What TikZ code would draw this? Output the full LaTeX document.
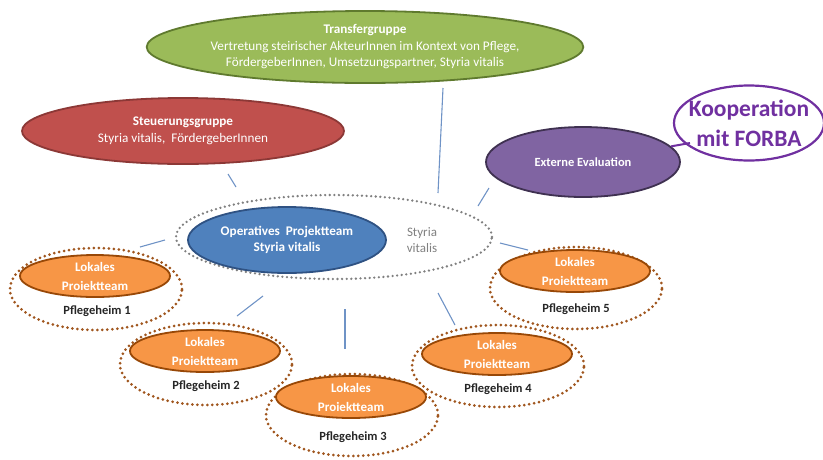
\documentclass[tikz,border=0pt]{standalone}
\usepackage{fontspec}
\setmainfont{Carlito}
\usetikzlibrary{shapes.geometric}
\definecolor{grfill}{HTML}{9BBB59}\definecolor{grline}{HTML}{5F7A2E}
\definecolor{rdfill}{HTML}{C0504D}\definecolor{rdline}{HTML}{8C3836}
\definecolor{pufill}{HTML}{8064A2}\definecolor{puline}{HTML}{3F3151}
\definecolor{blfill}{HTML}{4F81BD}\definecolor{blline}{HTML}{2F5283}
\definecolor{orfill}{HTML}{F79646}\definecolor{orline}{HTML}{984807}
\definecolor{dotbrown}{HTML}{A0561E}
\definecolor{forba}{HTML}{7030A0}
\definecolor{linkblue}{HTML}{6F93C6}
\begin{document}
\begin{tikzpicture}[x=1pt,y=-1pt,
  group/.style={ellipse,draw,line width=1.8pt,inner sep=0pt,text=white,align=center,
    font=\fontsize{13.2}{16.5}\selectfont},
  team/.style={ellipse,draw=orline,fill=orfill,line width=1.8pt,inner sep=0pt,
    minimum width=150pt,minimum height=42pt,text=white,align=center,
    font=\fontsize{13}{19}\selectfont\bfseries},
  home/.style={ellipse,draw=dotbrown,line width=3pt,line cap=round,
    dash pattern=on 0pt off 5pt,minimum width=172pt,minimum height=82pt,inner sep=0pt},
  homelabel/.style={font=\fontsize{12.5}{14}\selectfont\bfseries,text=black!85},
  link/.style={draw=linkblue,line width=1.1pt}]
\useasboundingbox (0,0) rectangle (823,459);

% upper groups
\node[group,fill=grfill,draw=grline,minimum width=434pt,minimum height=72pt] (transfer) at (365,47)
  {\textbf{Transfergruppe}\\Vertretung steirischer AkteurInnen im Kontext von Pflege,\\FördergeberInnen, Umsetzungspartner, Styria vitalis};
\node[group,fill=rdfill,draw=rdline,minimum width=322pt,minimum height=66pt] (steuer) at (183,131)
  {\textbf{Steuerungsgruppe}\\Styria vitalis,\ \ FördergeberInnen};
\node[group,fill=pufill,draw=puline,minimum width=194pt,minimum height=70pt,
  font=\fontsize{12.5}{15}\selectfont\bfseries] (extern) at (583,162) {Externe Evaluation};

% the FORBA bubble: its outline hugs the large text
\node[text=forba,align=center,inner sep=0pt,font=\fontsize{23.5}{30}\selectfont\bfseries]
  (forba) at (749,123) {Kooperation\\mit FORBA};
\draw[draw=forba,line width=2.2pt] (forba.center) ellipse [x radius=75, y radius=37.5];
\coordinate (forbatail) at (690,143);
\draw[draw=forba,line width=2pt] (forbatail) -- (extern);

% operative team
\node[ellipse,draw=black!50,line width=2.6pt,line cap=round,dash pattern=on 0pt off 4.6pt,
  minimum width=316pt,minimum height=84pt,inner sep=0pt] (opring) at (334,237) {};
\node[group,fill=blfill,draw=blline,minimum width=198pt,minimum height=66pt,
  font=\fontsize{13.2}{15.5}\selectfont\bfseries] (oper) at (287,240)
  {Operatives\ \ Projektteam\\Styria vitalis};
\node[text=black!50,align=center,font=\fontsize{13}{15.5}\selectfont] (svlabel) at (422,240)
  {Styria\\vitalis};

% local teams
\node[home] (h1) at (96,289) {};
\node[team] (t1) at (95,276) {Lokales\\Proiektteam};
\node[homelabel] (p1) at (97,311) {Pflegeheim 1};

\node[home] (h2) at (206,364) {};
\node[team] (t2) at (205,351) {Lokales\\Proiektteam};
\node[homelabel] (p2) at (206,386) {Pflegeheim 2};

\node[home] (h3) at (352,415) {};
\node[team] (t3) at (351,397) {Lokales\\Proiektteam};
\node[homelabel] (p3) at (353,437) {Pflegeheim 3};

\node[home] (h4) at (498,366) {};
\node[team] (t4) at (497,354) {Lokales\\Proiektteam};
\node[homelabel] (p4) at (498,389) {Pflegeheim 4};

\node[home] (h5) at (576,288) {};
\node[team] (t5) at (575,271) {Lokales\\Proiektteam};
\node[homelabel] (p5) at (576,309) {Pflegeheim 5};

% short links between the groups
\coordinate (s1) at (228,174); \coordinate (s2) at (236,187);
\coordinate (g1) at (443,88);  \coordinate (g2) at (438,193);
\coordinate (e1) at (489,188); \coordinate (e2) at (478,206);
\coordinate (a1) at (140,247); \coordinate (a2) at (165,240);
\coordinate (b1) at (237,316); \coordinate (b2) at (263,296);
\coordinate (c1) at (345,309); \coordinate (c2) at (345,349);
\coordinate (d1) at (438,293); \coordinate (d2) at (455,325);
\coordinate (f1) at (500,243); \coordinate (f2) at (528,250);
\draw[link] (s1) -- (s2);
\draw[link] (g1) -- (g2);
\draw[link] (e1) -- (e2);
\draw[link] (a1) -- (a2);
\draw[link] (b1) -- (b2);
\draw[link] (c1) -- (c2);
\draw[link] (d1) -- (d2);
\draw[link] (f1) -- (f2);
\end{tikzpicture}
\end{document}
